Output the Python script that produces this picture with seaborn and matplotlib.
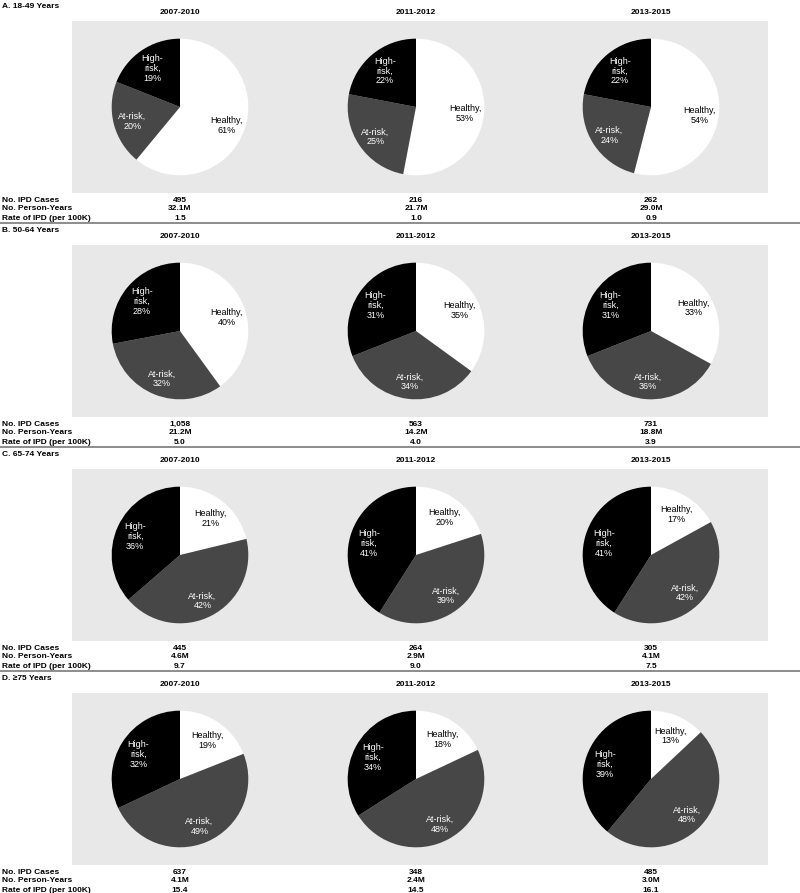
import matplotlib
matplotlib.use("Agg")
import matplotlib.pyplot as plt
import seaborn as sns

sns.set_theme(style="white")
plt.rcParams['font.family'] = ['Liberation Sans', 'DejaVu Sans']
plt.rcParams['text.color'] = 'black'

# data
sections = ["A. 18-49 Years", "B. 50-64 Years", "C. 65-74 Years", "D. \u226575 Years"]
periods = ["2007-2010", "2011-2012", "2013-2015"]
groups = ["Healthy", "At-risk", "High-risk"]

healthy = [[61, 53, 54], [40, 35, 33], [21, 20, 17], [19, 18, 13]]
at_risk = [[20, 25, 24], [32, 34, 36], [42, 39, 42], [49, 48, 48]]
high_risk = [[19, 22, 22], [28, 31, 31], [36, 41, 41], [32, 34, 39]]

ipd_cases = [["495", "216", "262"], ["1,058", "563", "731"],
             ["445", "264", "305"], ["637", "348", "485"]]
person_years = [["32.1M", "21.7M", "29.0M"], ["21.2M", "14.2M", "18.8M"],
                ["4.6M", "2.9M", "4.1M"], ["4.1M", "2.4M", "3.0M"]]
ipd_rate = [["1.5", "1.0", "0.9"], ["5.0", "4.0", "3.9"],
            ["9.7", "9.0", "7.5"], ["15.4", "14.5", "16.1"]]
row_names = ["No. IPD Cases", "No. Person-Years", "Rate of IPD (per 100K)"]

colors = ["#ffffff", "#474747", "#000000"]
text_colors = ["#000000", "#ffffff", "#ffffff"]

W, H = 800, 893
fig = plt.figure(figsize=(W / 100, H / 100), dpi=100)


def px_axes(x0, y0, w, h):
    return fig.add_axes([x0 / W, 1 - (y0 + h) / H, w / W, h / H])


def px_text(x, y, s, **kw):
    fig.text(x / W, 1 - y / H, s, color="black", **kw)


pie_x = [180, 416, 651]
pitch = 224
r = 68

for i, sec in enumerate(sections):
    top = i * pitch
    px_text(2, top + 6, sec, fontsize=6, fontweight="bold", va="center", ha="left")

    bg = px_axes(72, top + 21, 696, 172)
    bg.set_facecolor("#e8e8e8")
    bg.set_xticks([])
    bg.set_yticks([])
    for s in bg.spines.values():
        s.set_visible(False)

    for j, per in enumerate(periods):
        cx = pie_x[j]
        px_text(cx, top + 13, per, fontsize=6, fontweight="bold", va="center", ha="center")

        vals = [healthy[i][j], at_risk[i][j], high_risk[i][j]]
        ax = px_axes(cx - r - 1, top + 107 - r - 1, 2 * r + 2, 2 * r + 2)
        wedges, _, autotexts = ax.pie(vals, colors=colors, startangle=90, counterclock=False,
                                      radius=1, autopct="%d", pctdistance=0.72,
                                      wedgeprops=dict(linewidth=0))
        labels = ["Healthy,\n%d%%" % vals[0], "At-risk,\n%d%%" % vals[1],
                  "High-\nrisk,\n%d%%" % vals[2]]
        for t, lab, tc in zip(autotexts, labels, text_colors):
            t.set_text(lab)
            t.set_color(tc)
            t.set_fontsize(6.5)
            t.set_linespacing(1.1)
            x, y = t.get_position()
            t.set_position((x, y - 0.03))
        ax.set_xlim(-1.01, 1.01)
        ax.set_ylim(-1.01, 1.01)
        ax.set_aspect("equal")
        ax.axis("off")

        for k, col in enumerate([ipd_cases, person_years, ipd_rate]):
            px_text(cx, top + 200 + 9 * k, col[i][j], fontsize=6, fontweight="bold",
                    va="center", ha="center")

    for k, name in enumerate(row_names):
        px_text(2, top + 200 + 9 * k, name, fontsize=6, fontweight="bold", va="center", ha="left")

    line_end = 800 if i < 3 else 732
    ly = 1 - (top + 223) / H
    fig.add_artist(plt.Line2D([0, line_end / W], [ly, ly], color="#8c8c8c", linewidth=1.4))

fig.savefig("out.png", dpi=100)
